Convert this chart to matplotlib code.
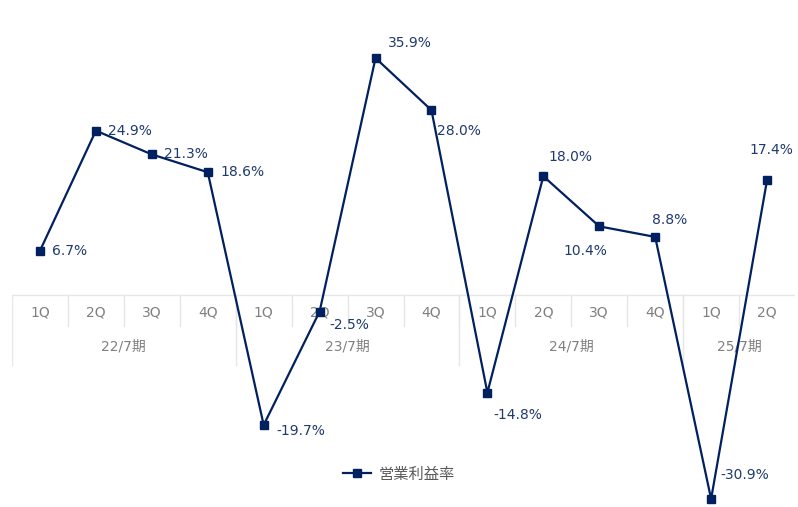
import matplotlib
matplotlib.use('Agg')
import matplotlib.pyplot as plt

plt.rcParams['font.family'] = ['DejaVu Sans', 'Noto Sans CJK JP']

quarters = ['1Q', '2Q', '3Q', '4Q', '1Q', '2Q', '3Q', '4Q', '1Q', '2Q', '3Q', '4Q', '1Q', '2Q']
years = ['22/7期', '23/7期', '24/7期', '25/7期']
year_sizes = [4, 4, 4, 2]
margin = [6.7, 24.9, 21.3, 18.6, -19.7, -2.5, 35.9, 28.0, -14.8, 18.0, 10.4, 8.8, -30.9, 17.4]

# label offsets in points (dx, dy) per point
offsets = [(9, 0), (9, 0), (9, 0), (9, 0), (9, -4), (7, -10), (9, 11), (4, -15),
           (4, -16), (4, 14), (-26, -18), (-2, 12), (7, 17), (-13, 22)]

line_color = '#002060'
label_color = '#1F3A6E'
grid_color = '#E6E6E6'
tick_color = '#808080'

fig = plt.figure(figsize=(7.98, 5.07), dpi=100)
ax = fig.add_axes([12 / 798, 0, 783 / 798, 497 / 507])
px = 6.6  # pixels per percent
ax.set_xlim(-0.5, len(quarters) - 0.5)
ax.set_ylim(-(507 - 295) / px, 285 / px)
ax.axis('off')

xs = list(range(len(quarters)))
row1 = -34 / px
row2 = -70 / px

# table-like category axis
ax.plot([-0.5, len(quarters) - 0.5], [0, 0], color=grid_color, lw=1, zorder=1)
ax.plot([-0.5, -0.5], [0, row2], color=grid_color, lw=1, zorder=1)
for i in range(1, len(quarters)):
    ax.plot([i - 0.5, i - 0.5], [0, row1 + 0.4], color=grid_color, lw=1, zorder=1)
start = 0
for name, n in zip(years, year_sizes):
    if start > 0:
        ax.plot([start - 0.5, start - 0.5], [0, row2], color=grid_color, lw=1, zorder=1)
    ax.text(start + (n - 1) / 2, (row1 + row2) / 2, name, ha='center', va='center',
            fontsize=10, color=tick_color)
    start += n
for x, q in zip(xs, quarters):
    ax.text(x, row1 / 2, q, ha='center', va='center', fontsize=10, color=tick_color)

ax.plot(xs, margin, color=line_color, lw=1.6, marker='s', markersize=6,
        label='営業利益率', zorder=3)

for x, v, (dx, dy) in zip(xs, margin, offsets):
    ax.annotate(f'{v:.1f}%', (x, v), xytext=(dx, dy), textcoords='offset points',
                ha='left', va='center', fontsize=10, color=label_color, zorder=4)

leg = fig.legend(loc='center', bbox_to_anchor=(0.5, 1 - 474 / 507), frameon=False,
                 fontsize=11, handlelength=1.8, handletextpad=0.5)
for t in leg.get_texts():
    t.set_color('#595959')

fig.savefig('out.png', dpi=100)
